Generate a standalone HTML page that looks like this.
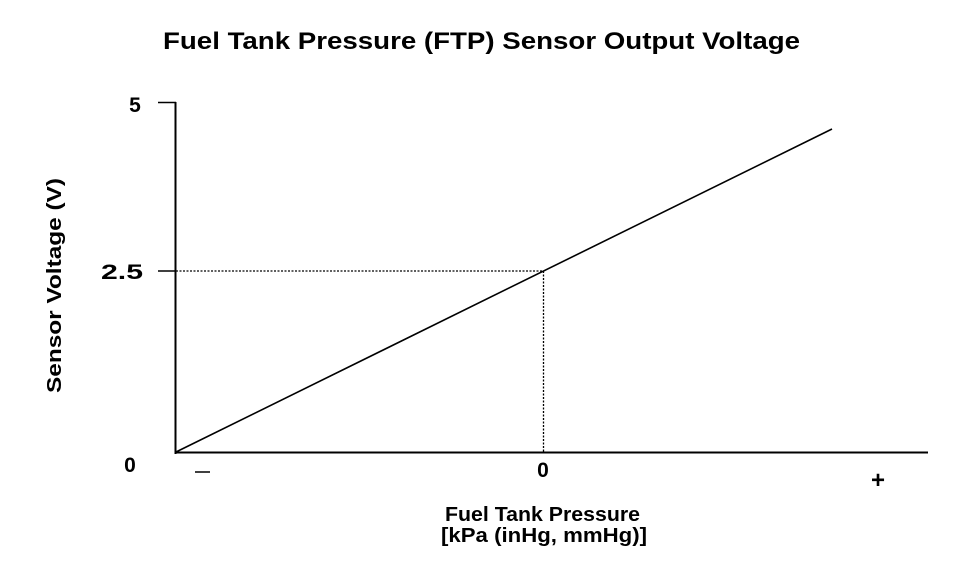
<!DOCTYPE html>
<html><head><style>
body{margin:0;background:#fff;width:960px;height:566px;overflow:hidden}
svg{display:block}
text{font-family:"Liberation Sans",Arial,sans-serif;font-weight:bold;fill:#000}
</style></head><body>
<svg width="960" height="566" viewBox="0 0 960 566">
<text x="163" y="49" font-size="24" textLength="637" lengthAdjust="spacingAndGlyphs">Fuel Tank Pressure (FTP) Sensor Output Voltage</text>
<line x1="175.5" y1="102" x2="175.5" y2="454" stroke="#000" stroke-width="2"/>
<line x1="158" y1="102.5" x2="176" y2="102.5" stroke="#000" stroke-width="1.5"/>
<line x1="158" y1="271" x2="176" y2="271" stroke="#000" stroke-width="1.5"/>
<line x1="175" y1="452.5" x2="928" y2="452.5" stroke="#000" stroke-width="2"/>
<line x1="176" y1="452" x2="832" y2="129" stroke="#000" stroke-width="1.6"/>
<line x1="176" y1="271" x2="543" y2="271" stroke="#000" stroke-width="1.3" stroke-dasharray="2,1.5"/>
<line x1="543.5" y1="271" x2="543.5" y2="452" stroke="#000" stroke-width="1.3" stroke-dasharray="2,1.5"/>
<text x="135" y="112" font-size="21" text-anchor="middle">5</text>
<text x="101" y="279" font-size="21" textLength="42" lengthAdjust="spacingAndGlyphs">2.5</text>
<text x="130" y="472" font-size="21" text-anchor="middle">0</text>
<text x="543" y="477" font-size="21" text-anchor="middle">0</text>
<line x1="195" y1="472" x2="210" y2="472" stroke="#000" stroke-width="1.5"/>
<text x="878" y="488" font-size="24" text-anchor="middle" font-weight="normal">+</text>
<text x="445" y="521" font-size="20" textLength="195" lengthAdjust="spacingAndGlyphs">Fuel Tank Pressure</text>
<text x="441" y="542" font-size="20" textLength="206" lengthAdjust="spacingAndGlyphs">[kPa (inHg, mmHg)]</text>
<text transform="translate(61,393) rotate(-90)" font-size="20" textLength="215" lengthAdjust="spacingAndGlyphs">Sensor Voltage (V)</text>
</svg>
</body></html>
